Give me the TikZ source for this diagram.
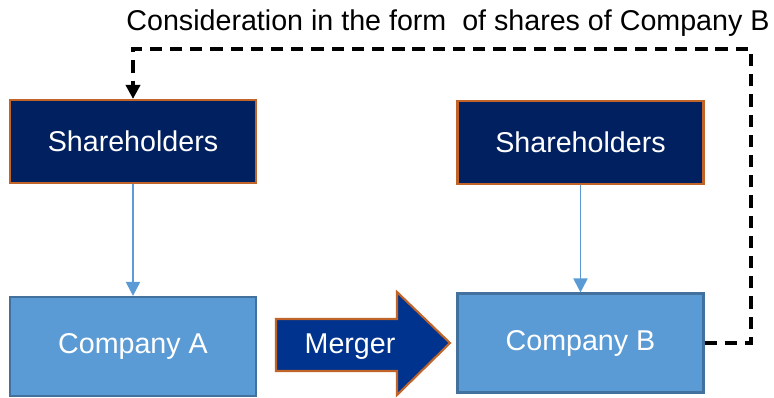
\documentclass[tikz,border=0pt]{standalone}
\usepackage{fontspec}
\setmainfont{Liberation Sans}
\usepackage{xcolor}
\usepackage{tikz}
\usetikzlibrary{arrows.meta, positioning}
\definecolor{navy}{HTML}{002060}
\definecolor{mergeblue}{HTML}{00338D}
\definecolor{rust}{HTML}{C0642A}
\definecolor{coblue}{HTML}{5B9BD5}
\definecolor{coedge}{HTML}{41719C}
\tikzstyle{holder} = [rectangle, draw=rust, line width=1.2pt, fill=navy, text=white, minimum width=4.92cm, minimum height=1.66cm, font=\fontsize{16.3}{19}\selectfont]
\tikzstyle{company} = [rectangle, draw=coedge, line width=1.2pt, fill=coblue, text=white, minimum width=4.92cm, minimum height=1.98cm, font=\fontsize{16.3}{19}\selectfont]
\tikzstyle{own} = [-{Triangle[width=8pt, length=8pt]}, draw=coblue, line width=1.1pt]
\tikzstyle{consider} = [-{Triangle[width=8pt, length=8pt]}, line width=2.2pt, dash pattern=on 7pt off 4.5pt]

\begin{document}
\begin{tikzpicture}[x=0.02cm, y=-0.02cm]
                \useasboundingbox (0,0) rectangle (774,398);
                % boxes
                \node[holder] (holdA) at (133,141.5) {Shareholders};
                \node[holder] (holdB) at (580.5,142.5) {Shareholders};
                \node[company] (compA) at (133,346.5) {Company A};
                \node[company] (compB) at (580.5,343) {Company B};
                % merger arrow
                \draw[draw=rust, line width=1.2pt, fill=mergeblue] (276,319) -- (397,319) -- (397,292) -- (450,343) -- (397,395) -- (397,371) -- (276,371) -- cycle;
                \node[text=white, font=\fontsize{16.3}{19}\selectfont] (merger) at (350,347) {Merger};
                % ownership
                \draw[own] (holdA) -- (compA);
                \draw[own] (holdB) -- (compB);
                % consideration
                \node[font=\fontsize{16.3}{19}\selectfont] (cons) at (448,23) {Consideration in the form\ \ of shares of Company B};
                \coordinate (cornerR) at (751,49);
                \coordinate (cornerL) at (133,49);
                \draw[consider] (compB.east) -| (cornerR) -- (cornerL) -- (holdA.north);
            \end{tikzpicture}
\end{document}
